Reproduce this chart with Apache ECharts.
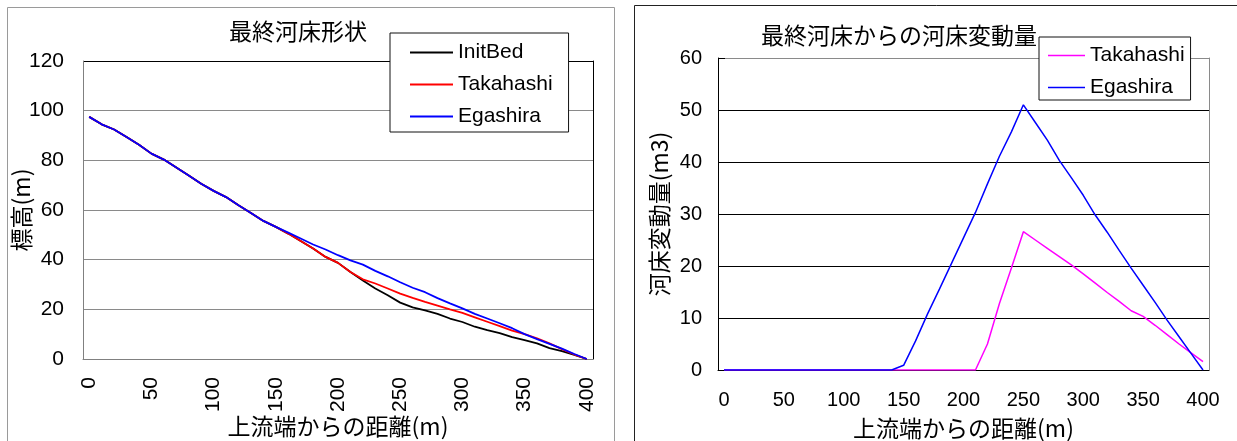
<!DOCTYPE html>
<html>
<head>
<meta charset="utf-8">
<script src="https://cdn.jsdelivr.net/npm/echarts@6/dist/echarts.min.js"></script>
<style>
  html, body { margin: 0; padding: 0; background: #fff; }
  #chart { width: 1237px; height: 441px; }
</style>
</head>
<body>
<div id="chart"></div>
<script>
// Distance from the upstream end (m), one point every 10 m
const distance = ['0','10','20','30','40','50','60','70','80','90','100','110','120','130','140','150','160','170','180','190','200','210','220','230','240','250','260','270','280','290','300','310','320','330','340','350','360','370','380','390','400'];

// Final bed elevation (m)
const initBed   = [97.5,94.5,92.4,89.4,86.3,82.7,80.3,77.1,73.9,70.6,67.7,65.2,61.9,58.8,55.6,53.2,50.5,47.5,44.5,41.1,38.7,35.0,31.6,28.4,25.7,22.7,20.8,19.6,18.2,16.3,14.9,13.0,11.6,10.4,8.8,7.6,6.3,4.4,3.2,1.7,0];
const takahashiBed = [97.5,94.5,92.4,89.4,86.3,82.7,80.3,77.1,73.9,70.6,67.7,65.2,61.9,58.8,55.6,53.2,50.5,47.5,44.5,41.1,38.7,35.0,32.1,30.4,28.4,26.3,24.6,23.0,21.5,20.0,18.6,16.8,15.0,13.2,11.4,10.0,8.3,6.3,4.0,1.8,0];
const egashiraBed  = [97.5,94.5,92.4,89.4,86.3,82.7,80.3,77.1,73.9,70.6,67.7,65.2,61.9,58.8,55.6,53.2,50.9,48.5,46.1,44.1,41.8,39.7,38.0,35.5,33.3,30.9,28.7,26.9,24.5,22.4,20.4,18.2,16.3,14.4,12.4,10.0,8.0,6.1,4.2,2.0,0];

// Bed change volume relative to the final bed (m3)
const takahashiChange = [0,0,0,0,0,0,0,0,0,0,0,0,0,0,0,0,0,0,0,0,0,0,5.0,12.8,19.6,26.6,25.0,23.4,21.8,20.2,18.5,16.7,14.9,13.2,11.4,10.3,8.6,6.8,5.0,3.3,1.6];
const egashiraChange  = [0,0,0,0,0,0,0,0,0,0,0,0,0,0,0,0.9,5.6,10.8,15.6,20.5,25.4,30.3,35.8,41.1,45.8,51.0,47.6,44.2,40.3,37.0,33.6,29.8,26.5,23.0,19.6,16.3,13.0,9.6,6.4,3.2,0];

// Titles and axis names
const leftTitle  = '最終河床形状';
const rightTitle = '最終河床からの河床変動量';
const xName      = '上流端からの距離(m)';
const leftYName  = '標高(m)';
const rightYName = '河床変動量(m3)';

const CJK = "'Noto Sans CJK JP', sans-serif";
const LAT = "'Liberation Sans', Arial, sans-serif";

const chart = echarts.init(document.getElementById('chart'), null, { renderer: 'canvas' });

const option = {
  animation: false,
  backgroundColor: '#fff',
  graphic: [
    { type: 'rect', z: -10, shape: { x: 7.5, y: 7.5, width: 607, height: 460 },
      style: { fill: 'none', stroke: '#9a9a9a', lineWidth: 1 } },
    { type: 'rect', z: -10, shape: { x: 634.5, y: 5.5, width: 620, height: 460 },
      style: { fill: 'none', stroke: '#222', lineWidth: 1 } },
    { type: 'text', x: 298, y: 31,
      style: { text: leftTitle, font: "23px 'Noto Sans CJK JP'", fill: '#000', textAlign: 'center', textVerticalAlign: 'middle' } },
    { type: 'text', x: 899, y: 35,
      style: { text: rightTitle, font: "23px 'Noto Sans CJK JP'", fill: '#000', textAlign: 'center', textVerticalAlign: 'middle' } }
  ],
  legend: [
    {
      selectedMode: false,
      orient: 'vertical',
      left: 390, top: 33,
      padding: [9, 16, 5, 20],
      icon: 'rect',
      itemWidth: 43, itemHeight: 2, itemGap: 11,
      backgroundColor: '#fff',
      borderColor: '#111', borderWidth: 1,
      textStyle: { fontFamily: LAT, fontSize: 21, color: '#000', lineHeight: 21 },
      data: ['InitBed', 'Takahashi', 'Egashira']
    },
    {
      selectedMode: false,
      orient: 'vertical',
      left: 1039, top: 37,
      padding: [8, 6, 2, 9],
      icon: 'rect',
      itemWidth: 37, itemHeight: 1.5, itemGap: 11,
      backgroundColor: '#fff',
      borderColor: '#111', borderWidth: 1,
      textStyle: { fontFamily: LAT, fontSize: 21, color: '#000', lineHeight: 21 },
      formatter: (name) => name.replace('dz-', ''),
      data: ['dz-Takahashi', 'dz-Egashira']
    }
  ],
  grid: [
    { left: 83, top: 61, width: 510, height: 298, containLabel: false, outerBoundsMode: 'none' },
    { left: 718, top: 58, width: 491, height: 312, containLabel: false, outerBoundsMode: 'none' }
  ],
  xAxis: [
    {
      type: 'category', gridIndex: 0, data: distance, boundaryGap: true,
      axisLine: { lineStyle: { color: '#808080', width: 1 } },
      axisTick: { interval: 4, inside: true, length: 8, lineStyle: { color: '#808080' } },
      axisLabel: { interval: 4, rotate: 90, margin: 18, fontFamily: LAT, fontSize: 21, color: '#000' },
      splitLine: { show: false },
      name: xName, nameLocation: 'middle', nameGap: 56, nameMoveOverlap: false,
      nameTextStyle: { fontFamily: CJK, fontSize: 23, color: '#000' }
    },
    {
      type: 'category', gridIndex: 1, data: distance, boundaryGap: true,
      axisLine: { lineStyle: { color: '#000', width: 1 } },
      axisTick: { interval: 4, inside: true, length: 7, lineStyle: { color: '#000' } },
      axisLabel: { interval: 4, margin: 20, fontFamily: LAT, fontSize: 20, color: '#000' },
      splitLine: { show: false },
      name: xName, nameLocation: 'middle', nameGap: 47, nameMoveOverlap: false,
      nameTextStyle: { fontFamily: CJK, fontSize: 23, color: '#000' }
    }
  ],
  yAxis: [
    {
      type: 'value', gridIndex: 0, min: 0, max: 120, interval: 20,
      axisLine: { show: true, lineStyle: { color: '#808080', width: 1 } },
      axisTick: { show: false },
      axisLabel: { margin: 19, fontFamily: LAT, fontSize: 21, color: '#000' },
      splitLine: { show: true, lineStyle: { color: ['#8a8a8a','#8a8a8a','#8a8a8a','#8a8a8a','#8a8a8a','#8a8a8a','#000'], width: 1 } },
      name: leftYName, nameLocation: 'middle', nameGap: 50, nameMoveOverlap: false,
      nameTextStyle: { fontFamily: CJK, fontSize: 23, color: '#000' }
    },
    {
      type: 'value', gridIndex: 0, position: 'right', min: 0, max: 1,
      axisLine: { show: true, lineStyle: { color: '#000', width: 1 } },
      axisTick: { show: false }, axisLabel: { show: false }, splitLine: { show: false }
    },
    {
      type: 'value', gridIndex: 1, min: 0, max: 60, interval: 10,
      axisLine: { show: true, lineStyle: { color: '#000', width: 1 } },
      axisTick: { show: true, inside: true, length: 7, lineStyle: { color: '#000' } },
      axisLabel: { margin: 16, fontFamily: LAT, fontSize: 20, color: '#000' },
      splitLine: { show: true, lineStyle: { color: ['#000','#000','#000','#000','#000','#000','#8a8a8a'], width: 1 } },
      name: rightYName, nameLocation: 'middle', nameGap: 47, nameMoveOverlap: false,
      nameTextStyle: { fontFamily: CJK, fontSize: 23, color: '#000' }
    },
    {
      type: 'value', gridIndex: 1, position: 'right', min: 0, max: 1,
      axisLine: { show: true, lineStyle: { color: '#8a8a8a', width: 1 } },
      axisTick: { show: false }, axisLabel: { show: false }, splitLine: { show: false }
    }
  ],
  series: [
    { name: 'InitBed', type: 'line', xAxisIndex: 0, yAxisIndex: 0, data: initBed,
      symbol: 'none', lineStyle: { color: '#000', width: 1.8 }, itemStyle: { color: '#000' } },
    { name: 'Takahashi', type: 'line', xAxisIndex: 0, yAxisIndex: 0, data: takahashiBed,
      symbol: 'none', lineStyle: { color: '#ff0000', width: 1.8 }, itemStyle: { color: '#ff0000' } },
    { name: 'Egashira', type: 'line', xAxisIndex: 0, yAxisIndex: 0, data: egashiraBed,
      symbol: 'none', lineStyle: { color: '#0000ff', width: 1.8 }, itemStyle: { color: '#0000ff' } },
    { name: 'dz-Takahashi', type: 'line', xAxisIndex: 1, yAxisIndex: 2, data: takahashiChange,
      symbol: 'none', lineStyle: { color: '#ff00ff', width: 1.5 }, itemStyle: { color: '#ff00ff' } },
    { name: 'dz-Egashira', type: 'line', xAxisIndex: 1, yAxisIndex: 2, data: egashiraChange,
      symbol: 'none', lineStyle: { color: '#0000ff', width: 1.5 }, itemStyle: { color: '#0000ff' } }
  ]
};

chart.setOption(option);
</script>
</body>
</html>
